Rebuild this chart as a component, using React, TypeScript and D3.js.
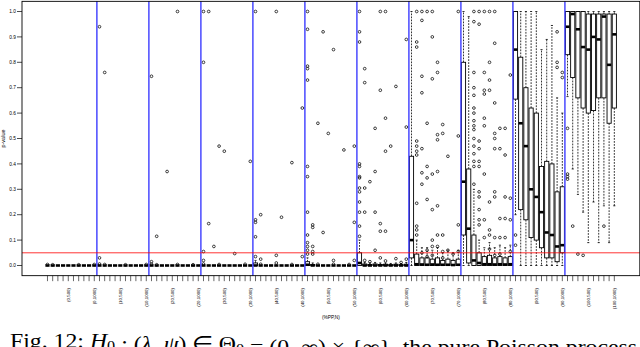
import React, { useEffect, useRef } from "react";
import * as d3 from "d3";

// %PP levels (one block of boxes each) and the sample sizes inside a block
const ppLevels = [0, 10, 20, 30, 40, 50, 60, 70, 80, 90, 100];
const nLevels = [100, 200, 300, 400, 500, 600, 700, 800, 900, 1000];
const labelledN = [500, 1000];
const yTicks = [0, 0.1, 0.2, 0.3, 0.4, 0.5, 0.6, 0.7, 0.8, 0.9, 1.0];
const alphaLevel = 0.05;

// box stats per N: [lower whisker, q1, median, q3, upper whisker]
const boxes0 = [
  [0, 0, 0, 0, 0], [0, 0, 0, 0, 0], [0, 0, 0, 0, 0], [0, 0, 0, 0, 0], [0, 0, 0, 0, 0],
  [0, 0, 0, 0, 0], [0, 0, 0, 0, 0], [0, 0, 0, 0, 0], [0, 0, 0, 0, 0], [0, 0, 0, 0, 0],
];
const boxes1 = [
  [0, 0, 0, 0, 0], [0, 0, 0, 0, 0], [0, 0, 0, 0, 0], [0, 0, 0, 0, 0], [0, 0, 0, 0, 0],
  [0, 0, 0, 0, 0], [0, 0, 0, 0, 0], [0, 0, 0, 0, 0], [0, 0, 0, 0, 0], [0, 0, 0, 0, 0],
];
const boxes2 = [
  [0, 0, 0, 0, 0], [0, 0, 0, 0, 0], [0, 0, 0, 0, 0], [0, 0, 0, 0, 0], [0, 0, 0, 0, 0],
  [0, 0, 0, 0, 0], [0, 0, 0, 0, 0], [0, 0, 0, 0, 0], [0, 0, 0, 0, 0], [0, 0, 0, 0, 0],
];
const boxes3 = [
  [0, 0, 0, 0, 0], [0, 0, 0, 0, 0], [0, 0, 0, 0, 0], [0, 0, 0, 0, 0], [0, 0, 0, 0, 0],
  [0, 0, 0, 0, 0], [0, 0, 0, 0, 0], [0, 0, 0, 0, 0], [0, 0, 0, 0, 0], [0, 0, 0, 0, 0],
];
const boxes4 = [
  [0, 0, 0, 0.01, 0.02], [0, 0, 0, 0, 0], [0, 0, 0, 0, 0], [0, 0, 0, 0, 0], [0, 0, 0, 0, 0],
  [0, 0, 0, 0, 0], [0, 0, 0, 0, 0], [0, 0, 0, 0, 0], [0, 0, 0, 0, 0], [0, 0, 0, 0, 0],
];
const boxes5 = [
  [0, 0, 0.003, 0.015, 0.03], [0, 0, 0, 0.004, 0.01], [0, 0, 0, 0, 0], [0, 0, 0, 0, 0], [0, 0, 0, 0, 0],
  [0, 0, 0, 0, 0], [0, 0, 0, 0, 0], [0, 0, 0, 0, 0], [0, 0, 0, 0, 0], [0, 0, 0, 0, 0],
];
const boxes6 = [
  [0, 0, 0.01, 0.05, 0.1], [0, 0, 0, 0.006, 0.012], [0, 0, 0, 0.004, 0.01], [0, 0, 0, 0.006, 0.012], [0, 0, 0, 0.004, 0.01],
  [0, 0, 0, 0.005, 0.01], [0, 0, 0, 0.003, 0.008], [0, 0, 0, 0.005, 0.01], [0, 0, 0, 0.003, 0.008], [0, 0, 0, 0.005, 0.012],
];
const boxes7 = [
  [0, 0.03, 0.1, 0.43, 1.0], [0, 0, 0.005, 0.045, 0.1], [0, 0, 0.004, 0.03, 0.07], [0, 0, 0.003, 0.03, 0.07], [0, 0, 0.004, 0.025, 0.06],
  [0, 0, 0.003, 0.03, 0.07], [0, 0, 0.003, 0.02, 0.05], [0, 0, 0.003, 0.025, 0.06], [0, 0, 0.002, 0.02, 0.05], [0, 0, 0.003, 0.025, 0.06],
];
const boxes8 = [
  [0, 0.12, 0.33, 0.8, 1.0], [0, 0.01, 0.145, 0.38, 0.98], [0, 0, 0.02, 0.12, 0.3], [0, 0, 0.01, 0.05, 0.1], [0, 0, 0.005, 0.035, 0.07],
  [0, 0, 0.005, 0.04, 0.09], [0, 0, 0.004, 0.03, 0.07], [0, 0, 0.005, 0.035, 0.08], [0, 0, 0.004, 0.03, 0.07], [0, 0, 0.005, 0.035, 0.08],
];
const boxes9 = [
  [0.2, 0.655, 0.85, 1.0, 1.0], [0, 0.22, 0.56, 0.82, 1.0], [0, 0.18, 0.47, 0.7, 1.0], [0, 0.11, 0.3, 0.62, 1.0], [0, 0.1, 0.27, 0.6, 1.0],
  [0, 0.07, 0.21, 0.39, 0.85], [0, 0.03, 0.13, 0.41, 0.89], [0, 0.03, 0.12, 0.4, 0.945], [0, 0.015, 0.075, 0.29, 0.66], [0, 0.05, 0.08, 0.31, 0.6],
];
const boxes10 = [
  [0.665, 0.83, 0.94, 1.0, 1.0], [0.38, 0.74, 0.99, 1.0, 1.0], [0.28, 0.66, 0.93, 1.0, 1.0], [0.21, 0.62, 0.86, 1.0, 1.0], [0.09, 0.6, 0.85, 0.99, 1.0],
  [0.25, 0.61, 0.9, 0.99, 1.0], [0.09, 0.66, 0.89, 0.99, 1.0], [0.235, 0.66, 0.98, 0.99, 1.0], [0.09, 0.56, 0.79, 0.99, 1.0], [0.235, 0.62, 0.91, 0.99, 1.0],
];

// outliers: [position of N inside the block, p-value]
const outliers0 = [[0, 0.004], [1, 0.003], [6, 0.003], [9, 0.004]];
const outliers1 = [[0, 0.94], [1, 0.76], [0, 0.03], [0, 0.006], [1, 0.004], [5, 0.003], [9, 0.004]];
const outliers2 = [[0, 0.745], [0, 0.015], [1, 0.115], [3, 0.37], [5, 1.0], [0, 0.005], [1, 0.003], [5, 0.004], [8, 0.003]];
const outliers3 = [
  [0, 1.0], [1, 1.0], [0, 0.8], [3, 0.47], [4, 0.45], [9, 0.41], [1, 0.165], [2, 0.075], [0, 0.055], [0, 0.02],
  [6, 0.047], [0, 0.006], [3, 0.004], [8, 0.005],
];
const outliers4 = [
  [0, 1.0], [4, 1.0], [0, 0.18], [0, 0.17], [1, 0.2], [0, 0.113], [0, 0.035], [1, 0.025], [5, 0.19], [4, 0.04],
  [4, 0.01], [7, 0.405], [9, 0.62], [9, 0.035], [1, 0.005], [7, 0.004],
];
const outliers5 = [
  [0, 1.0], [0, 0.93], [0, 0.785], [0, 0.775], [0, 0.73], [3, 0.92], [5, 0.85], [2, 0.56], [4, 0.52], [0, 0.39],
  [0, 0.35], [0, 0.21], [0, 0.12], [0, 0.09], [0, 0.075], [0, 0.06], [0, 0.045], [1, 0.16], [1, 0.15], [3, 0.13],
  [1, 0.075], [1, 0.055], [1, 0.045], [5, 0.02], [7, 0.455], [9, 0.47], [9, 0.17], [9, 0.02], [2, 0.005], [5, 0.005],
  [8, 0.004],
];
const outliers6 = [
  [0, 1.0], [4, 1.0], [5, 1.0], [0, 0.92], [0, 0.88], [1, 0.775], [1, 0.72], [4, 0.69], [7, 0.705], [5, 0.58],
  [3, 0.54], [9, 0.545], [9, 0.89], [0, 0.4], [0, 0.39], [0, 0.35], [0, 0.345], [0, 0.305], [0, 0.29], [0, 0.25],
  [0, 0.21], [0, 0.155], [0, 0.115], [1, 0.21], [3, 0.37], [2, 0.33], [1, 0.305], [6, 0.47], [5, 0.45], [3, 0.21],
  [4, 0.165], [4, 0.135], [5, 0.135], [3, 0.06], [7, 0.027], [1, 0.02], [2, 0.015], [4, 0.03], [5, 0.018], [8, 0.012],
  [9, 0.025],
];
const outliers7 = [
  [1, 1.0], [2, 1.0], [3, 1.0], [4, 1.0], [9, 1.0], [2, 0.965], [4, 0.9], [1, 0.88], [1, 0.86], [5, 0.8],
  [5, 0.76], [2, 0.745], [4, 0.735], [2, 0.68], [3, 0.56], [6, 0.555], [5, 0.515], [9, 0.51], [1, 0.49], [1, 0.47],
  [1, 0.45], [1, 0.435], [2, 0.46], [5, 0.495], [6, 0.52], [7, 0.43], [3, 0.39], [2, 0.365], [3, 0.345], [4, 0.36],
  [5, 0.37], [2, 0.32], [3, 0.26], [5, 0.235], [4, 0.22], [1, 0.245], [1, 0.155], [1, 0.14], [1, 0.12], [4, 0.1],
  [4, 0.075], [5, 0.12], [6, 0.12], [9, 0.16], [2, 0.05], [3, 0.06], [4, 0.04], [5, 0.075], [6, 0.055], [7, 0.06],
  [8, 0.045], [9, 0.055], [3, 0.035], [6, 0.03],
];
const outliers8 = [
  [2, 1.0], [3, 1.0], [4, 1.0], [5, 1.0], [6, 1.0], [2, 0.96], [3, 0.95], [6, 0.875], [5, 0.8], [2, 0.76],
  [4, 0.76], [5, 0.73], [2, 0.7], [4, 0.69], [4, 0.675], [5, 0.69], [2, 0.67], [6, 0.64], [2, 0.62], [2, 0.6],
  [4, 0.58], [2, 0.57], [2, 0.55], [2, 0.535], [4, 0.55], [6, 0.52], [7, 0.54], [8, 0.54], [9, 0.75], [2, 0.5],
  [2, 0.47], [3, 0.49], [3, 0.46], [2, 0.44], [2, 0.41], [2, 0.39], [3, 0.41], [3, 0.39], [4, 0.36], [6, 0.5],
  [6, 0.46], [7, 0.46], [8, 0.435], [2, 0.32], [3, 0.29], [3, 0.27], [5, 0.25], [6, 0.29], [6, 0.27], [8, 0.27],
  [9, 0.265], [3, 0.22], [3, 0.18], [3, 0.16], [4, 0.18], [5, 0.14], [5, 0.12], [7, 0.185], [8, 0.185], [9, 0.18],
  [6, 0.11], [7, 0.11], [8, 0.11], [4, 0.11], [9, 0.055], [5, 0.065], [6, 0.04], [7, 0.045],
];
const outliers9 = [[8, 0.92], [8, 0.8], [8, 0.78], [9, 0.76], [9, 0.74], [0, 0.12], [0, 0.08]];
const outliers10 = [[0, 0.54], [0, 0.36], [0, 0.35], [0, 0.34], [1, 0.155], [2, 0.045], [3, 0.04], [7, 0.155]];

const boxGroups = [boxes0, boxes1, boxes2, boxes3, boxes4, boxes5, boxes6, boxes7, boxes8, boxes9, boxes10];
const outlierGroups = [outliers0, outliers1, outliers2, outliers3, outliers4, outliers5, outliers6, outliers7, outliers8, outliers9, outliers10];

const captionParts = [
  { t: "Fig. 12: " },
  { t: "H", it: true },
  { t: "0", sub: true },
  { t: " : (" },
  { t: "λ", it: true },
  { t: ", " },
  { t: "ψ", it: true },
  { t: ") ∈ Θ" },
  { t: "0", sub: true },
  { t: " = (0, ∞) × {∞}, the pure Poisson process" },
];

const W = 640;
const H = 347;

export default function App() {
  const svgRef = useRef<SVGSVGElement>(null);

  useEffect(() => {
    const svg = d3.select(svgRef.current);
    svg.selectAll("*").remove();

    const nBoxes = ppLevels.length * nLevels.length;
    // R style: boxes at 1..n, 4% padding each side
    const x = d3.scaleLinear().domain([-3.9, nBoxes + 4.9]).range([22, 639.8]);
    const y = d3.scaleLinear().domain([0, 1]).range([265.5, 11.5]);
    const half = (x(0.8) - x(0)) / 2;
    const yTop = y(1.04);
    const yBot = y(-0.04);

    const plot = svg.append("g").attr("class", "plot");

    boxGroups.forEach((boxes, g) => {
      boxes.forEach((b, k) => {
        const p = g * nLevels.length + k + 1;
        const cx = x(p);
        const [lo, q1, med, q3, hi] = b;
        const bx = plot.append("g");
        // whiskers
        bx.append("line")
          .attr("x1", cx).attr("x2", cx)
          .attr("y1", y(q3)).attr("y2", y(hi))
          .attr("stroke", "#000").attr("stroke-width", 0.8)
          .attr("stroke-dasharray", "1.8,1.2");
        bx.append("line")
          .attr("x1", cx).attr("x2", cx)
          .attr("y1", y(q1)).attr("y2", y(lo))
          .attr("stroke", "#000").attr("stroke-width", 0.8)
          .attr("stroke-dasharray", "1.8,1.2");
        [lo, hi].forEach((v) => {
          bx.append("line")
            .attr("x1", cx - half / 2).attr("x2", cx + half / 2)
            .attr("y1", y(v)).attr("y2", y(v))
            .attr("stroke", "#000").attr("stroke-width", 0.8);
        });
        bx.append("rect")
          .attr("x", cx - half)
          .attr("width", half * 2)
          .attr("y", y(q3))
          .attr("height", Math.max(0, y(q1) - y(q3)))
          .attr("fill", "#fff")
          .attr("stroke", "#000")
          .attr("stroke-width", 0.9);
        bx.append("line")
          .attr("x1", cx - half).attr("x2", cx + half)
          .attr("y1", y(med)).attr("y2", y(med))
          .attr("stroke", "#000").attr("stroke-width", 2.6);
      });
    });

    outlierGroups.forEach((outs, g) => {
      plot.append("g")
        .selectAll("circle")
        .data(outs)
        .join("circle")
        .attr("cx", (d) => x(g * nLevels.length + d[0] + 1))
        .attr("cy", (d) => y(d[1]))
        .attr("r", 1.35)
        .attr("fill", "none")
        .attr("stroke", "#000")
        .attr("stroke-width", 0.75);
    });

    // separators between %PP blocks
    plot.append("g")
      .selectAll("line")
      .data(ppLevels.slice(1))
      .join("line")
      .attr("x1", (_d, i) => x((i + 1) * nLevels.length + 0.5))
      .attr("x2", (_d, i) => x((i + 1) * nLevels.length + 0.5))
      .attr("y1", yTop)
      .attr("y2", yBot)
      .attr("stroke", "#3c3cff")
      .attr("stroke-width", 1.4);

    plot.append("line")
      .attr("x1", x.range()[0]).attr("x2", x.range()[1])
      .attr("y1", y(alphaLevel)).attr("y2", y(alphaLevel))
      .attr("stroke", "#ff0000")
      .attr("stroke-width", 0.8);

    // frame
    svg.append("rect")
      .attr("x", x.range()[0])
      .attr("y", yTop)
      .attr("width", x.range()[1] - x.range()[0])
      .attr("height", yBot - yTop)
      .attr("fill", "none")
      .attr("stroke", "#000")
      .attr("stroke-width", 0.9);

    // y axis
    const yAx = svg.append("g").attr("font-family", "Liberation Sans, Arial, sans-serif").attr("font-size", 4.8);
    yTicks.forEach((t) => {
      yAx.append("line")
        .attr("x1", 17).attr("x2", 22)
        .attr("y1", y(t)).attr("y2", y(t))
        .attr("stroke", "#000").attr("stroke-width", 0.7);
      yAx.append("text")
        .attr("x", 16)
        .attr("y", y(t))
        .attr("dy", "0.35em")
        .attr("text-anchor", "end")
        .text(t.toFixed(1));
    });
    yAx.append("text")
      .attr("transform", `translate(5,${(yTop + yBot) / 2}) rotate(-90)`)
      .attr("text-anchor", "middle")
      .attr("font-size", 5.5)
      .text("p-value");

    // x axis: a tick per box, labels only for some N
    const xAx = svg.append("g").attr("font-family", "Liberation Sans, Arial, sans-serif").attr("font-size", 4.4);
    ppLevels.forEach((pp, g) => {
      nLevels.forEach((n, k) => {
        const cx = x(g * nLevels.length + k + 1);
        xAx.append("line")
          .attr("x1", cx).attr("x2", cx)
          .attr("y1", yBot).attr("y2", yBot + 5.5)
          .attr("stroke", "#000").attr("stroke-width", 0.6);
        if (labelledN.includes(n)) {
          xAx.append("text")
            .attr("transform", `translate(${cx + 1.5},288) rotate(-90)`)
            .attr("text-anchor", "end")
            .text(`(${pp},${n})`);
        }
      });
    });
    xAx.append("text")
      .attr("x", (x.range()[0] + x.range()[1]) / 2)
      .attr("y", 319)
      .attr("text-anchor", "middle")
      .attr("font-size", 4.8)
      .text("(%PP,N)");

    // caption (cut at the bottom edge, as in the page it came from);
    // widened a bit since the original is set in a broader face
    const cap = svg.append("text")
      .attr("transform", "translate(10,348) scale(1.16,1)")
      .attr("font-family", "Liberation Serif, Times New Roman, serif")
      .attr("font-size", 20.5)
      .attr("fill", "#000");
    captionParts.forEach((part) => {
      const ts = cap.append("tspan").text(part.t);
      if (part.it) ts.attr("font-style", "italic");
      if (part.sub) {
        ts.attr("font-size", 14).attr("dy", 3);
        cap.append("tspan").attr("dy", -3).text("");
      }
    });
  }, []);

  return (
    <svg
      ref={svgRef}
      width={W}
      height={H}
      style={{ position: "absolute", left: 0, top: 0, background: "#fff" }}
    />
  );
}
